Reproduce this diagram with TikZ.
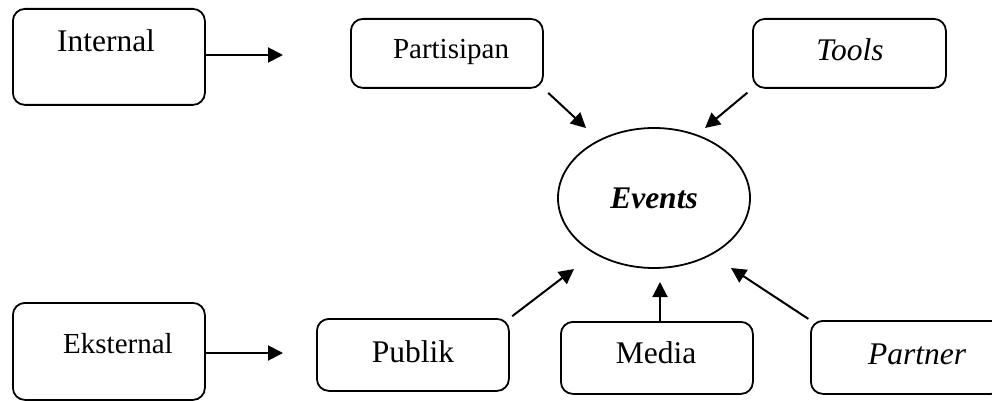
\documentclass[tikz,border=0pt]{standalone}
\usepackage{fontspec}
\setmainfont{Liberation Serif}
\usetikzlibrary{shapes.geometric,arrows.meta}
\tikzset{
  box/.style={draw=black, line width=1.8pt, rounded corners=12pt, inner sep=0pt, anchor=north west},
  bigtxt/.style={anchor=base, inner sep=0pt, font=\fontsize{31.5}{36}\selectfont},
  smalltxt/.style={anchor=base, inner sep=0pt, font=\fontsize{29}{34}\selectfont},
  arr/.style={line width=2pt, -{Triangle[length=15pt,width=15pt]}},
}
\begin{document}
\begin{tikzpicture}[x=1pt,y=-1pt]
\clip (0,0) rectangle (992,401);
\fill[white] (0,0) rectangle (992,401);
% boxes
\node[box, minimum width=192pt, minimum height=96pt] (intl) at (12,8) {};
\node[box, minimum width=192pt, minimum height=97pt] (ext) at (12,302) {};
\node[box, minimum width=192pt, minimum height=69pt] (part) at (350,18) {};
\node[box, minimum width=193pt, minimum height=69pt] (tools) at (752,18) {};
\node[box, minimum width=192pt, minimum height=72pt] (pub) at (316,318) {};
\node[box, minimum width=192pt, minimum height=72pt] (media) at (560,321) {};
\node[box, minimum width=192pt, minimum height=73pt] (partner) at (810,320) {};
\node[draw=black, line width=1.8pt, ellipse, minimum width=192pt, minimum height=140pt, inner sep=0pt,
      font=\fontsize{31.5}{36}\selectfont\bfseries\itshape] (events) at (654,198) {Events};
% texts
\node[bigtxt] (intltxt) at (106,52) {Internal};
\node[smalltxt] (exttxt) at (118,353) {Eksternal};
\node[smalltxt] (parttxt) at (451,59) {Partisipan};
\node[bigtxt] (toolstxt) at (850,61) {\itshape Tools};
\node[bigtxt] (pubtxt) at (413,362) {Publik};
\node[bigtxt] (mediatxt) at (656,363) {Media};
\node[bigtxt] (partnertxt) at (917,364) {\itshape Partner};
% arrow ends
\coordinate (intlend) at (283,55);
\coordinate (extend) at (283,353);
\coordinate (tipP) at (586,128);
\coordinate (tipT) at (705,128);
\coordinate (tipPub) at (574,269);
\coordinate (tipM) at (660,282);
\coordinate (tipPa) at (731,268);
% arrows
\draw[arr] (intl.east |- intlend) -- (intlend);
\draw[arr] (ext.east |- extend) -- (extend);
\draw[arr, shorten <=6pt] (part.south east) -- (tipP);
\draw[arr, shorten <=6pt] (tools.south west) -- (tipT);
\draw[arr, shorten <=3pt] (pub.north east) -- (tipPub);
\draw[arr] (tipM |- media.north) -- (tipM);
\draw[arr, shorten <=2pt] (partner.north west) -- (tipPa);
\end{tikzpicture}
\end{document}
